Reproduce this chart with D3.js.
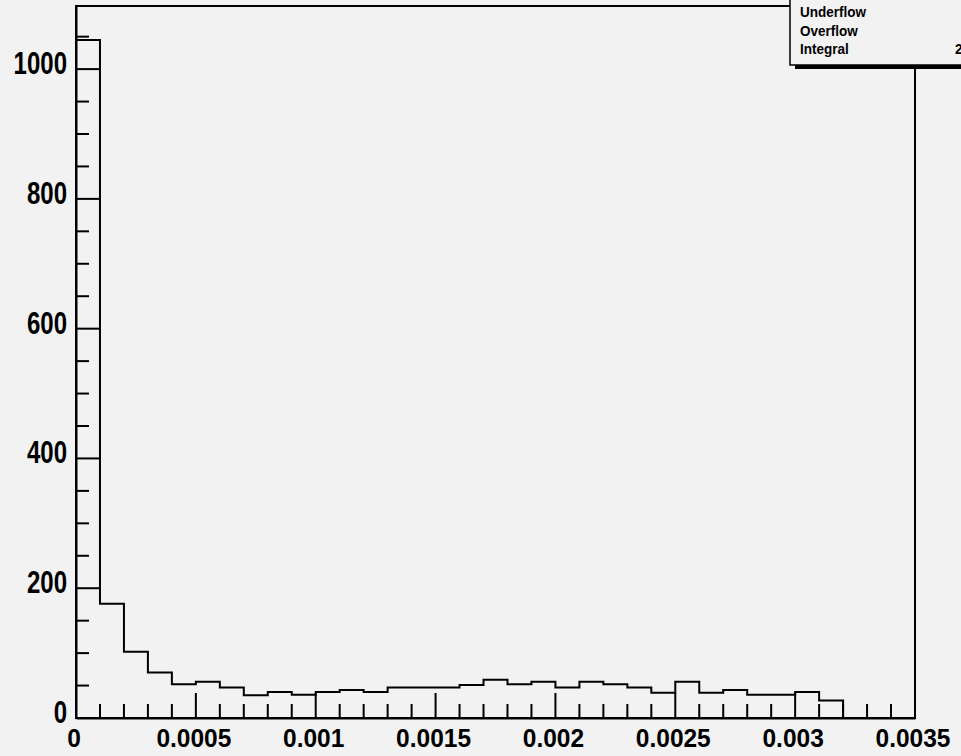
<!DOCTYPE html>
<html>
<head>
<meta charset="utf-8">
<script src="https://cdn.jsdelivr.net/npm/d3@7"></script>
<style>
  html, body { margin: 0; padding: 0; background: #f2f2f2; }
  svg { display: block; }
  text { font-family: "Liberation Sans", Arial, Helvetica, sans-serif; font-weight: bold; fill: #000; }
</style>
</head>
<body>
<svg id="chart" width="961" height="756"></svg>
<script>
// Histogram: 35 bins of width 0.0001 over [0, 0.0035]
const xMin = 0;
const xMax = 0.0035;
const binWidth = 0.0001;
const counts = [1045, 176, 102, 70, 52, 56, 47, 35, 40, 36,
                40, 43, 40, 47, 47, 47, 51, 59, 52, 56,
                47, 56, 52, 47, 39, 56, 39, 43, 36, 36,
                40, 27, 0, 0, 0];

// Axis ticks
const xMajorTicks = [0, 0.0005, 0.001, 0.0015, 0.002, 0.0025, 0.003, 0.0035];
const xTickLabels = ["0", "0.0005", "0.001", "0.0015", "0.002", "0.0025", "0.003", "0.0035"];
const xMinorStep = 0.0001;
const yMajorTicks = [0, 200, 400, 600, 800, 1000];
const yTickLabels = ["0", "200", "400", "600", "800", "1000"];
const yMinorStep = 50;

// Statistics box rows (the value column sits mostly past the canvas edge)
const statNames = ["Underflow", "Overflow", "Integral"];
const integral = d3.sum(counts);

const frame = { left: 76, right: 915, top: 6, bottom: 718 };

const svg = d3.select("#chart");
svg.append("rect").attr("width", 961).attr("height", 756).attr("fill", "#f2f2f2");

const x = d3.scaleLinear().domain([xMin, xMax]).range([frame.left, frame.right]);
const yMaxVal = d3.max(counts) * 1.05;
const y = d3.scaleLinear().domain([0, yMaxVal]).range([frame.bottom, frame.top]);

// Frame
svg.append("rect")
  .attr("x", frame.left).attr("y", frame.top)
  .attr("width", frame.right - frame.left).attr("height", frame.bottom - frame.top)
  .attr("fill", "#f2f2f2").attr("stroke", "#000").attr("stroke-width", 2);

// X axis ticks (drawn upward, inside frame)
const xMinorTicks = d3.range(0, Math.round((xMax - xMin) / xMinorStep) + 1)
  .map(i => xMin + i * xMinorStep)
  .filter(v => !xMajorTicks.some(m => Math.abs(m - v) < 1e-9));

const xAxis = d3.axisBottom(x).tickValues(xMajorTicks).tickSize(0).tickFormat("");
svg.append("g").attr("transform", `translate(0,${frame.bottom})`).call(xAxis)
  .call(g => g.select(".domain").attr("stroke-width", 2));

const gx = svg.append("g").attr("stroke", "#000").attr("stroke-width", 2);
gx.selectAll("line.xmaj").data(xMajorTicks).join("line")
  .attr("x1", d => x(d)).attr("x2", d => x(d))
  .attr("y1", frame.bottom).attr("y2", frame.bottom - 25);
gx.selectAll("line.xmin").data(xMinorTicks).join("line")
  .attr("x1", d => x(d)).attr("x2", d => x(d))
  .attr("y1", frame.bottom).attr("y2", frame.bottom - 14);

svg.append("g").selectAll("text").data(xMajorTicks).join("text")
  .attr("transform", d => `translate(${x(d) - 2},747) scale(1,1.06)`)
  .attr("text-anchor", "middle")
  .attr("font-size", 24.5)
  .text((d, i) => xTickLabels[i]);

// Y axis ticks (drawn rightward, inside frame)
const yMinorTicks = d3.range(0, Math.floor(yMaxVal / yMinorStep) + 1)
  .map(i => i * yMinorStep)
  .filter(v => !yMajorTicks.includes(v));

const yAxis = d3.axisLeft(y).tickValues(yMajorTicks).tickSize(0).tickFormat("");
svg.append("g").attr("transform", `translate(${frame.left},0)`).call(yAxis)
  .call(g => g.select(".domain").attr("stroke-width", 2));

const gy = svg.append("g").attr("stroke", "#000").attr("stroke-width", 2);
gy.selectAll("line.ymaj").data(yMajorTicks).join("line")
  .attr("x1", frame.left).attr("x2", frame.left + 24)
  .attr("y1", d => y(d)).attr("y2", d => y(d));
gy.selectAll("line.ymin").data(yMinorTicks).join("line")
  .attr("x1", frame.left).attr("x2", frame.left + 13)
  .attr("y1", d => y(d)).attr("y2", d => y(d));

svg.append("g").selectAll("text").data(yMajorTicks).join("text")
  .attr("transform", d => `translate(67,${y(d) + 5}) scale(0.96,1.22)`)
  .attr("text-anchor", "end")
  .attr("font-size", 25)
  .text((d, i) => yTickLabels[i]);

// Histogram outline as a step path
const stepPts = [[x(xMin), y(0)]];
counts.forEach((c, i) => {
  const lo = xMin + i * binWidth, hi = xMin + (i + 1) * binWidth;
  stepPts.push([x(lo), y(c)], [x(hi), y(c)]);
});
stepPts.push([x(xMax), y(0)]);
svg.append("path")
  .attr("d", d3.line()(stepPts))
  .attr("fill", "none").attr("stroke", "#000").attr("stroke-width", 2);

// Statistics box (extends past the right edge of the canvas)
const box = { x: 790, y: -4, w: 220, h: 69 };
svg.append("rect")
  .attr("x", box.x + 5).attr("y", box.y + box.h)
  .attr("width", box.w).attr("height", 4).attr("fill", "#000");
svg.append("rect")
  .attr("x", box.x).attr("y", box.y)
  .attr("width", box.w).attr("height", box.h)
  .attr("fill", "#f2f2f2").attr("stroke", "#000").attr("stroke-width", 1.5);

const statBase = [17, 36, 54];
svg.append("g").selectAll("text.name").data(statNames).join("text")
  .attr("transform", (d, i) => `translate(800,${statBase[i]}) scale(1,1.12)`)
  .attr("font-size", 13.5)
  .text(d => d);
svg.append("text")
  .attr("transform", `translate(955,${statBase[2]}) scale(1,1.12)`)
  .attr("font-size", 13.5)
  .text(String(integral));
</script>
</body>
</html>
